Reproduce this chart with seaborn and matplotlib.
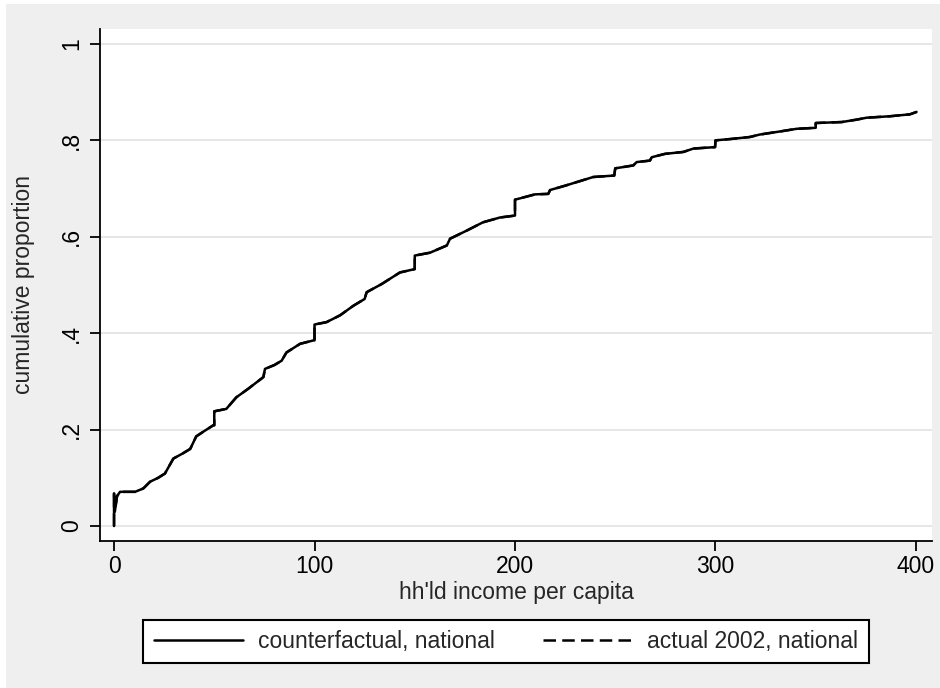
import matplotlib
matplotlib.use('Agg')
import matplotlib.pyplot as plt
import seaborn as sns
from matplotlib.patches import Rectangle

# income per capita (x) and cumulative proportion (y)
income = [0, 0, 0.4, 1.5, 3, 10.5, 14.6, 18, 22, 25.4, 29.6, 34, 38, 41, 45, 49.5, 50, 50,
          56, 61, 67, 74.5, 75.3, 80, 83.6, 86, 92.8, 99.4, 100, 100, 106, 112.7, 119.4,
          125, 126, 133.5, 142.6, 150, 150, 157.6, 166, 167.6, 176, 184, 192.5, 200, 200,
          210, 216.6, 217.5, 225, 239, 249.5, 250, 259, 260.7, 267.3, 268.2, 274.8, 284,
          289, 299.8, 300, 308, 317.2, 322, 333, 340.5, 350, 350, 363, 370.4, 375.4, 387,
          397, 400.3]
counterfactual = [0, 0.068, 0.03, 0.062, 0.071, 0.071, 0.078, 0.092, 0.100, 0.109, 0.140,
                  0.150, 0.160, 0.186, 0.197, 0.209, 0.209, 0.238, 0.243, 0.267, 0.285,
                  0.309, 0.326, 0.334, 0.343, 0.360, 0.378, 0.385, 0.385, 0.418, 0.423,
                  0.437, 0.457, 0.471, 0.485, 0.502, 0.526, 0.533, 0.561, 0.567, 0.582,
                  0.596, 0.613, 0.630, 0.640, 0.644, 0.677, 0.688, 0.689, 0.697, 0.706,
                  0.724, 0.727, 0.742, 0.748, 0.755, 0.758, 0.765, 0.772, 0.776, 0.783,
                  0.786, 0.800, 0.803, 0.807, 0.812, 0.819, 0.824, 0.826, 0.836, 0.838,
                  0.843, 0.847, 0.850, 0.854, 0.859]
# the 2002 curve sits right under the counterfactual one in the picture
actual_2002 = list(counterfactual)

series_labels = ['counterfactual, national', 'actual 2002, national']
x_ticks = [0, 100, 200, 300, 400]
y_ticks = [0, 0.2, 0.4, 0.6, 0.8, 1.0]
y_tick_labels = ['0', '.2', '.4', '.6', '.8', '1']

sns.set_style('white')
plt.rcParams['font.family'] = ['Liberation Sans', 'DejaVu Sans']
fs = 16.5
bg = '#efefef'

fig = plt.figure(figsize=(9.4, 6.88), dpi=100, facecolor=bg)
# thin white strips at the top and left edge, as in the original export
fig.patches.append(Rectangle((0, 0), 6 / 940, 1, transform=fig.transFigure,
                             facecolor='white', edgecolor='none', zorder=0))
fig.patches.append(Rectangle((0, 1 - 4 / 688), 1, 4 / 688, transform=fig.transFigure,
                             facecolor='white', edgecolor='none', zorder=0))

ax = fig.add_axes([100 / 940, 1 - 541 / 688, 832 / 940, 512 / 688])
ax.set_facecolor('white')

sns.lineplot(x=income, y=actual_2002, ax=ax, sort=False, estimator=None,
             color='black', linewidth=1.8)
dashed = ax.lines[-1]
dashed.set_dashes((5, 2.5))
sns.lineplot(x=income, y=counterfactual, ax=ax, sort=False, estimator=None,
             color='black', linewidth=1.8)
solid = ax.lines[-1]

ax.set_xlim(-7, 408)
ax.set_ylim(-0.031, 1.031)
ax.set_xticks(x_ticks)
ax.set_yticks(y_ticks)
ax.set_yticklabels(y_tick_labels)

ax.grid(axis='y', color='#e4e4e4', linewidth=1.3)
ax.grid(axis='x', visible=False)
ax.set_axisbelow(True)

for side in ['top', 'right']:
    ax.spines[side].set_visible(False)
for side in ['left', 'bottom']:
    ax.spines[side].set_color('black')
    ax.spines[side].set_linewidth(1.3)

ax.tick_params(axis='both', direction='out', length=7, width=1.3, color='black',
               labelsize=fs, labelcolor='black')
ax.tick_params(axis='x', pad=3, bottom=True)
ax.tick_params(axis='y', pad=5, left=True, labelrotation=90)
for lab in ax.get_yticklabels():
    lab.set_verticalalignment('center')

ax.set_xlabel("hh'ld income per capita", fontsize=fs, labelpad=2)
ax.set_ylabel('cumulative proportion', fontsize=fs, labelpad=18)

leg = fig.legend([solid, dashed], series_labels, loc='center', ncol=2,
                 bbox_to_anchor=(506 / 940, 1 - 641.5 / 688),
                 bbox_transform=fig.transFigure, fontsize=fs, frameon=True,
                 fancybox=False, shadow=False, handlelength=3.9, handletextpad=0.65,
                 columnspacing=2.1, borderpad=0.45, borderaxespad=0)
leg.get_frame().set_edgecolor('black')
leg.get_frame().set_linewidth(1.5)
leg.get_frame().set_facecolor('white')
leg.get_frame().set_alpha(1)

plt.savefig('out.png', dpi=100, facecolor=fig.get_facecolor())
